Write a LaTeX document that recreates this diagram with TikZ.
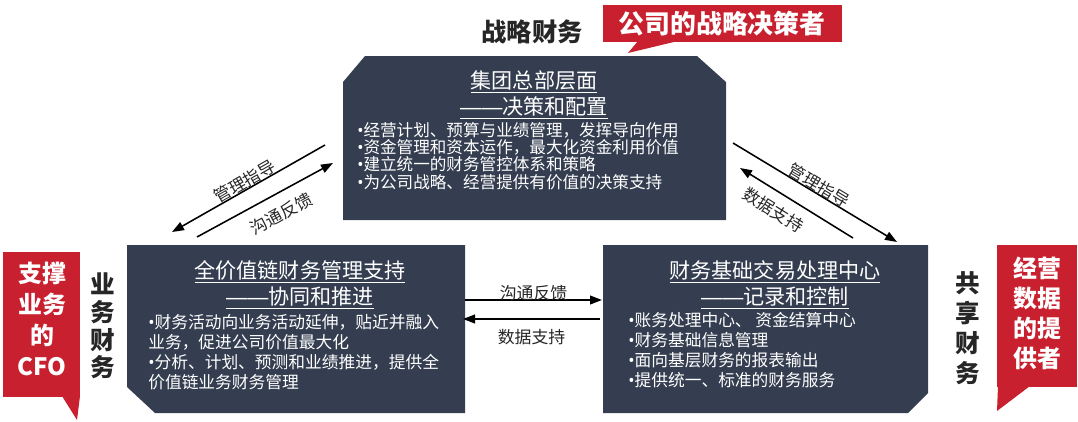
\documentclass[tikz,border=0pt]{standalone}
\usepackage{fontspec}
\setmainfont{Noto Sans CJK SC}
\newfontfamily\latinfont{Noto Sans}
\newfontfamily\dashfont{Liberation Sans}
\usetikzlibrary{arrows.meta, calc}
\definecolor{panelBlue}{HTML}{343E50}
\definecolor{calloutRed}{HTML}{C8202F}
\definecolor{inkGray}{HTML}{262626}
\newcommand{\fsize}[2]{\fontsize{#1pt}{#2pt}\selectfont}
\newcommand{\dotmark}{{\latinfont •}}
\newcommand{\longdash}{{\dashfont ——}}
\tikzstyle{panel} = [fill=panelBlue, draw=none]
\tikzstyle{panelTitle} = [text=white, align=center, font=\fsize{15}{18.4}, inner sep=0pt]
\tikzstyle{panelBody} = [text=white, align=left, anchor=west, inner sep=0pt]
\tikzstyle{flow} = [-{Triangle[length=3mm, width=2.2mm]}, line width=1.1pt, black]
\tikzstyle{flowBack} = [{Triangle[length=3mm, width=2.2mm]}-, line width=1.1pt, black]
\tikzstyle{flowLabel} = [font=\fsize{12}{12}, text=inkGray, sloped, inner sep=0pt]
\tikzstyle{callout} = [fill=calloutRed, draw=none]
\tikzstyle{calloutText} = [text=white, align=center, inner sep=0pt]
\tikzstyle{roleText} = [text=inkGray, align=center, inner sep=0pt]

\begin{document}
\begin{tikzpicture}[x=0.025cm, y=-0.025cm]
    \useasboundingbox (0,0) rectangle (1078,421);

    % Top panel: headquarters
    \fill[panel] (343,220) -- (343,82) -- (365,56) -- (697,56) -- (726,82) -- (726,220) -- cycle;
    \node[panelTitle] (hqTitle) at (534,95) {\underline{集团总部层面}\\\underline{\longdash 决策和配置}};
    \node[panelBody, font=\fsize{11.8}{12.3}] (hqBody) at (357,156) {\dotmark 经营计划、预算与业绩管理，发挥导向作用\\\dotmark 资金管理和资本运作，最大化资金利用价值\\\dotmark 建立统一的财务管控体系和策略\\\dotmark 为公司战略、经营提供有价值的决策支持};

    % Left panel: business finance
    \fill[panel] (127,245) -- (465,245) -- (465,413) -- (155,413) -- (127,387) -- cycle;
    \node[panelTitle] (bizTitle) at (300,285) {\underline{全价值链财务管理支持}\\\underline{\longdash 协同和推进}};
    \node[panelBody, font=\fsize{11.9}{14.2}] (bizBody) at (148,352) {\dotmark 财务活动向业务活动延伸，贴近并融入\\业务，促进公司价值最大化\\\dotmark 分析、计划、预测和业绩推进，提供全\\价值链业务财务管理};

    % Right panel: shared service centre
    \fill[panel] (603,245) -- (928,245) -- (928,393) -- (908,413) -- (603,413) -- cycle;
    \node[panelTitle] (sscTitle) at (775,285) {\underline{财务基础交易处理中心}\\\underline{\longdash 记录和控制}};
    \node[panelBody, font=\fsize{11.9}{14.2}] (sscBody) at (628,350) {\dotmark 账务处理中心、 资金结算中心\\\dotmark 财务基础信息管理\\\dotmark 面向基层财务的报表输出\\\dotmark 提供统一、标准的财务服务};

    % Arrows between headquarters and business finance
    \coordinate (lgTip) at (172,232);
    \coordinate (lgTail) at (325,145);
    \draw[flowBack] (lgTip) -- (lgTail) node[flowLabel, midway, above=-0.5pt] {管理指导};
    \coordinate (lfTail) at (197,237);
    \coordinate (lfTip) at (333,163);
    \draw[flow] (lfTail) -- (lfTip) node[flowLabel, pos=0.55, below=8pt] {沟通反馈};

    % Arrows between headquarters and shared services
    \coordinate (rgTail) at (733,143);
    \coordinate (rgTip) at (897,242);
    \draw[flow] (rgTail) -- (rgTip) node[flowLabel, midway, above=-0.5pt] {管理指导};
    \coordinate (rdTip) at (740,168);
    \coordinate (rdTail) at (853,238);
    \draw[flowBack] (rdTip) -- (rdTail) node[flowLabel, pos=0.38, below=7pt] {数据支持};

    % Arrows between business finance and shared services
    \coordinate (hfTail) at (465,300);
    \coordinate (hfTip) at (602,300);
    \draw[flow] (hfTail) -- (hfTip) node[flowLabel, midway, above=-1pt] {沟通反馈};
    \coordinate (hdTip) at (463,319);
    \coordinate (hdTail) at (600,319);
    \draw[flowBack] (hdTip) -- (hdTail) node[flowLabel, midway, below=7pt] {数据支持};

    % Role labels and red callouts
    \node[roleText, font=\bfseries\fsize{18}{18}] (strategyRole) at (532,32) {战略财务};
    \fill[callout] (603,5) rectangle (842,42);
    \fill[callout] (638,41) -- (678,41) -- (628,53) -- cycle;
    \node[calloutText, font=\bfseries\fsize{18.4}{18.4}] (decider) at (722,24) {公司的战略决策者};

    \fill[callout] (3,252) rectangle (80,397);
    \fill[callout] (62,396) -- (80,396) -- (77,420) -- cycle;
    \node[calloutText, font=\bfseries\fsize{17}{22}] (cfo) at (42,319) {支撑\\业务\\的\\CFO};
    \node[roleText, font=\bfseries\fsize{17.5}{19.6}] (bizRole) at (103,326) {业\\务\\财\\务};

    \fill[callout] (997,245) rectangle (1077,387);
    \fill[callout] (998,386) -- (1030,386) -- (997,411) -- cycle;
    \node[calloutText, font=\bfseries\fsize{17}{21.3}] (provider) at (1037,313) {经营\\数据\\的提\\供者};
    \node[roleText, font=\bfseries\fsize{17.5}{21.3}] (sharedRole) at (968,328) {共\\享\\财\\务};
\end{tikzpicture}
\end{document}
